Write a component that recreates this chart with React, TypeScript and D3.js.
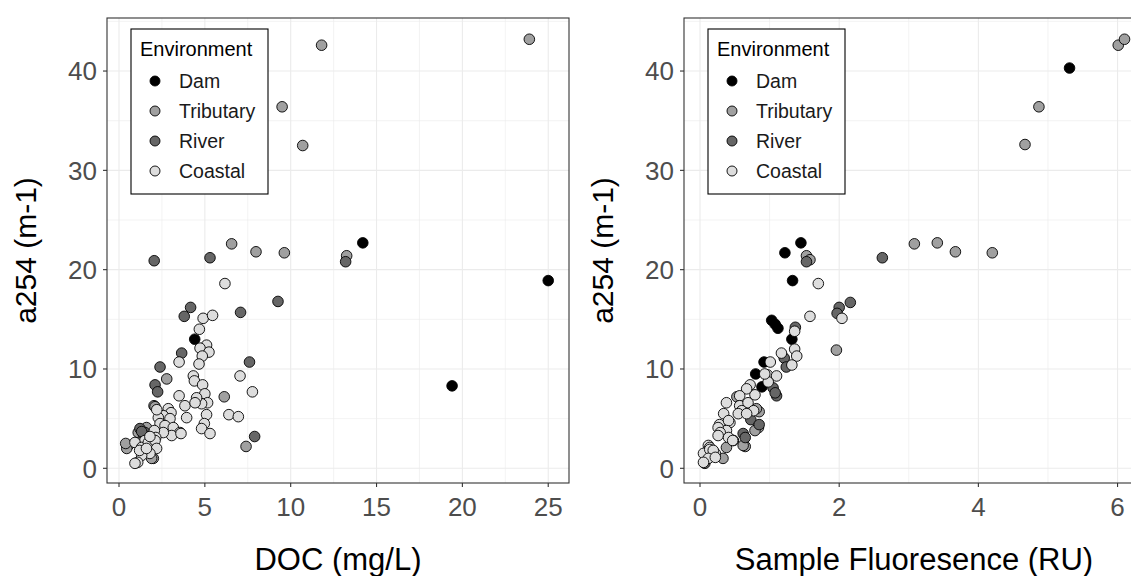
import React from 'react';
import * as d3 from 'd3';

type Pt = [number, number];

const environments = ['Dam', 'Tributary', 'River', 'Coastal'];
const envFill: Record<string, string> = {
  Dam: '#000000',
  Tributary: '#a0a0a0',
  River: '#666666',
  Coastal: '#dddddd',
};

const yTicks = [0, 10, 20, 30, 40];
const yMinor = [5, 15, 25, 35, 45];

// panel 1: DOC (mg/L) vs a254
const docTicks = [0, 5, 10, 15, 20, 25];
const docMinor = [2.5, 7.5, 12.5, 17.5, 22.5];
const docDam: Pt[] = [[25.0, 18.9], [19.4, 8.3], [14.2, 22.7], [4.41, 13.0]];
const docTributary: Pt[] = [
  [23.9, 43.2], [11.8, 42.6], [9.5, 36.4], [10.7, 32.5], [6.56, 22.6], [7.98, 21.8],
  [9.63, 21.7], [13.26, 21.4], [2.78, 9.0], [6.13, 7.2], [7.4, 2.2], [2.04, 6.3],
  [1.6, 4.1], [1.12, 3.6], [0.54, 2.3], [0.45, 2.0], [2.0, 1.0], [0.39, 2.5],
  [1.9, 1.0], [2.1, 6.2],
];
const docRiver: Pt[] = [
  [2.05, 20.9], [5.3, 21.2], [13.2, 20.8], [9.26, 16.8], [4.17, 16.2], [3.8, 15.3],
  [7.08, 15.7], [3.65, 11.6], [7.6, 10.7], [2.39, 10.2], [2.1, 8.4], [2.25, 7.7],
  [7.9, 3.2], [1.51, 3.6], [1.42, 3.4], [1.22, 4.0], [1.32, 3.7],
];
const docCoastal: Pt[] = [
  [6.17, 18.6], [4.9, 15.1], [5.45, 15.4], [4.68, 14.0], [5.1, 12.4], [4.72, 12.1],
  [5.24, 11.7], [4.85, 11.3], [4.66, 10.5], [3.5, 10.7], [4.33, 9.3], [4.39, 8.8],
  [7.05, 9.3], [4.87, 8.4], [5.0, 7.5], [5.16, 6.6], [4.81, 6.5], [5.1, 5.4],
  [4.97, 4.5], [4.81, 4.0], [5.3, 3.5], [3.5, 7.3], [3.84, 6.3], [3.94, 5.1],
  [4.52, 7.1], [4.43, 6.6], [7.77, 7.7], [6.4, 5.4], [6.95, 5.2], [2.87, 6.0],
  [3.03, 5.6], [2.58, 5.3], [2.29, 5.1], [2.97, 5.0], [2.39, 4.5], [2.68, 4.3],
  [3.16, 4.1], [3.55, 3.6], [3.07, 3.3], [2.58, 3.6], [2.06, 3.8], [2.14, 3.1],
  [1.51, 2.8], [0.93, 2.6], [1.32, 2.1], [1.71, 2.6], [2.1, 2.8], [2.19, 2.0],
  [1.8, 1.5], [1.32, 1.3], [1.09, 0.6], [0.93, 0.5], [3.61, 3.5], [2.2, 5.9],
  [1.8, 3.2], [1.2, 1.8], [1.6, 2.0],
];

// panel 2: sample fluorescence (RU) vs a254
const fluTicks = [0, 2, 4, 6];
const fluMinor = [1, 3, 5];
const fluDam: Pt[] = [
  [5.31, 40.3], [1.45, 22.7], [1.22, 21.7], [1.33, 18.9], [1.03, 14.9], [1.08, 14.5],
  [1.12, 14.1], [1.32, 13.0], [0.92, 10.7], [0.8, 9.5], [0.89, 8.2],
];
const fluTributary: Pt[] = [
  [6.01, 42.6], [6.1, 43.2], [4.87, 36.4], [4.67, 32.6], [1.53, 21.4], [1.58, 21.0],
  [3.08, 22.6], [3.41, 22.7], [3.67, 21.8], [4.2, 21.7], [1.96, 11.9], [0.53, 7.2],
  [0.85, 5.7], [0.81, 6.0], [0.65, 2.2], [0.38, 2.1], [0.33, 1.0], [0.62, 2.3],
  [0.84, 4.1], [0.79, 3.8],
];
const fluRiver: Pt[] = [
  [1.53, 20.8], [2.62, 21.2], [2.16, 16.7], [2.0, 16.2], [1.97, 15.6], [1.37, 14.2],
  [1.21, 11.1], [1.24, 10.2], [1.05, 8.1], [1.1, 7.3], [0.73, 4.9], [0.85, 4.4],
  [0.62, 3.5], [0.65, 3.1], [0.48, 2.8], [0.07, 0.5], [1.08, 7.6],
];
const fluCoastal: Pt[] = [
  [1.7, 18.6], [1.58, 15.3], [2.04, 15.1], [1.36, 13.8], [1.36, 12.0], [1.39, 11.3],
  [1.17, 11.6], [1.32, 10.4], [1.01, 10.7], [0.97, 9.4], [1.1, 9.3], [0.98, 8.7],
  [0.72, 8.4], [0.79, 7.4], [0.67, 8.0], [0.57, 7.3], [0.38, 6.6], [0.34, 5.5],
  [0.57, 6.3], [0.69, 6.6], [0.77, 5.8], [0.6, 5.8], [0.55, 5.5], [0.67, 5.5],
  [0.43, 4.6], [0.28, 4.4], [0.41, 4.8], [0.38, 3.8], [0.26, 4.1], [0.29, 3.6],
  [0.26, 3.3], [0.41, 3.1], [0.47, 2.8], [0.12, 2.3], [0.14, 2.1], [0.05, 1.5],
  [0.14, 1.9], [0.22, 1.5], [0.19, 1.8], [0.12, 1.0], [0.05, 0.6], [0.22, 1.1],
  [0.93, 9.5],
];

const FONT = '"Liberation Sans", Arial, sans-serif';

interface PanelProps {
  left: number;
  right: number;
  xDomain: [number, number];
  xTicks: number[];
  xMinor: number[];
  xTitle: string;
  series: Record<string, Pt[]>;
}

const top = 18;
const bottom = 483;

function Panel({ left, right, xDomain, xTicks, xMinor, xTitle, series }: PanelProps) {
  const x = d3.scaleLinear().domain(xDomain).range([left, right]);
  const y = d3.scaleLinear().domain([-1.48, 45.34]).range([bottom, top]);
  const grid = '#ebebeb';
  const clipId = 'clip' + left;

  return (
    <g>
      <defs>
        <clipPath id={clipId}>
          <rect x={left} y={top} width={right - left} height={bottom - top} />
        </clipPath>
      </defs>
      <rect x={left} y={top} width={right - left} height={bottom - top} fill="white" />
      <g clipPath={`url(#${clipId})`}>
        {xMinor.map((t) => (
          <line key={'xm' + t} x1={x(t)} x2={x(t)} y1={top} y2={bottom} stroke={grid} strokeWidth={0.6} />
        ))}
        {yMinor.map((t) => (
          <line key={'ym' + t} x1={left} x2={right} y1={y(t)} y2={y(t)} stroke={grid} strokeWidth={0.6} />
        ))}
        {xTicks.map((t) => (
          <line key={'xg' + t} x1={x(t)} x2={x(t)} y1={top} y2={bottom} stroke={grid} strokeWidth={1.1} />
        ))}
        {yTicks.map((t) => (
          <line key={'yg' + t} x1={left} x2={right} y1={y(t)} y2={y(t)} stroke={grid} strokeWidth={1.1} />
        ))}
        {environments.map((env) =>
          series[env].map((d, i) => (
            <circle
              key={env + i}
              cx={x(d[0])}
              cy={y(d[1])}
              r={5.3}
              fill={envFill[env]}
              stroke="#000"
              strokeWidth={0.9}
            />
          ))
        )}
      </g>
      <rect x={left} y={top} width={right - left} height={bottom - top} fill="none" stroke="#333" strokeWidth={1.1} />

      {yTicks.map((t) => (
        <g key={'yt' + t}>
          <line x1={left - 4} x2={left} y1={y(t)} y2={y(t)} stroke="#333" strokeWidth={1.1} />
          <text x={left - 10} y={y(t)} dy="0.36em" textAnchor="end" fontSize={26} fill="#4d4d4d" fontFamily={FONT}>
            {t}
          </text>
        </g>
      ))}
      {xTicks.map((t) => (
        <g key={'xt' + t}>
          <line x1={x(t)} x2={x(t)} y1={bottom} y2={bottom + 4} stroke="#333" strokeWidth={1.1} />
          <text x={x(t)} y={516} textAnchor="middle" fontSize={26} fill="#4d4d4d" fontFamily={FONT}>
            {t}
          </text>
        </g>
      ))}

      <text x={(left + right) / 2} y={570} textAnchor="middle" fontSize={31} fill="#000" fontFamily={FONT}>
        {xTitle}
      </text>
      <text
        transform={`translate(${left - 71},${(top + bottom) / 2}) rotate(-90)`}
        textAnchor="middle"
        fontSize={30}
        fill="#000"
        fontFamily={FONT}
      >
        a254 (m-1)
      </text>

      <g transform={`translate(${left + 24},29)`}>
        <rect x={0} y={0} width={137} height={165} fill="white" stroke="#000" strokeWidth={1.1} />
        <text x={9} y={27} fontSize={20} fill="#000" fontFamily={FONT}>
          Environment
        </text>
        {environments.map((env, i) => (
          <g key={'lg' + env} transform={`translate(0,${52 + i * 30})`}>
            <circle cx={24} cy={0} r={5} fill={envFill[env]} stroke="#000" strokeWidth={0.9} />
            <text x={48} y={0} dy="0.36em" fontSize={19.5} fill="#1a1a1a" fontFamily={FONT}>
              {env}
            </text>
          </g>
        ))}
      </g>
    </g>
  );
}

export default function App() {
  return (
    <div style={{ position: 'absolute', left: 0, top: 0 }}>
      <svg width={1131} height={576} style={{ display: 'block', background: 'white' }}>
        <Panel
          left={107}
          right={569}
          xDomain={[-0.699, 26.21]}
          xTicks={docTicks}
          xMinor={docMinor}
          xTitle="DOC (mg/L)"
          series={{ Dam: docDam, Tributary: docTributary, River: docRiver, Coastal: docCoastal }}
        />
        <Panel
          left={684}
          right={1144}
          xDomain={[-0.23, 6.38]}
          xTicks={fluTicks}
          xMinor={fluMinor}
          xTitle="Sample Fluoresence (RU)"
          series={{ Dam: fluDam, Tributary: fluTributary, River: fluRiver, Coastal: fluCoastal }}
        />
      </svg>
    </div>
  );
}
